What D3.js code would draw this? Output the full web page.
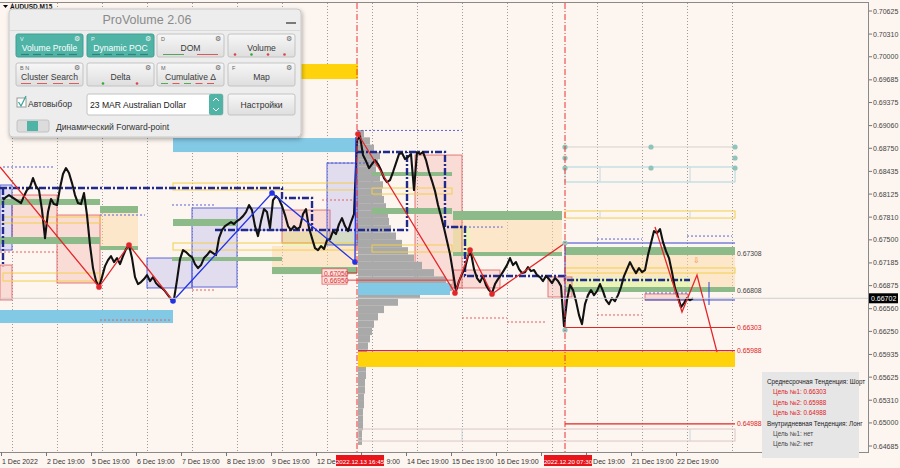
<!DOCTYPE html>
<html><head><meta charset="utf-8">
<script src="https://cdn.jsdelivr.net/npm/d3@7/dist/d3.min.js"></script>
<style>
html,body{margin:0;padding:0;background:#fdf5ef;overflow:hidden}
text{font-family:"Liberation Sans",Arial,sans-serif}
</style></head><body>
<svg id="chart" width="900" height="468"></svg>
<script>
// ---------------- DATA ----------------
// AUDUSD M15 closes, sampled evenly along the chart (1/15 trading day apart)
const priceClose = [
0.68043,0.68084,0.68111,0.68084,0.68057,0.68029,0.68002,0.68098,0.68180,0.68221,
0.68344,0.68234,0.68180,0.67906,0.67524,0.67879,0.68057,0.67988,0.67975,0.68207,
0.68398,0.68480,0.68412,0.68275,0.68111,0.68002,0.67988,0.68139,0.67838,0.67428,
0.67114,0.66937,0.66855,0.66991,0.67141,0.67223,0.67278,0.67196,0.67251,0.67169,
0.67278,0.67374,0.67428,0.67251,0.66991,0.66896,0.66923,0.66964,0.67019,0.66937,
0.66991,0.66909,0.66868,0.66841,0.66800,0.66745,0.66691,0.66691,0.66950,0.67237,
0.67360,0.67333,0.67292,0.67264,0.67169,0.67114,0.67155,0.67251,0.67292,0.67346,
0.67319,0.67292,0.67524,0.67633,0.67688,0.67715,0.67743,0.67715,0.67756,0.67784,
0.67824,0.67879,0.67975,0.67906,0.67688,0.67551,0.67756,0.67920,0.67879,0.67661,
0.68043,0.68098,0.68057,0.67961,0.67838,0.67688,0.67633,0.67688,0.67647,0.67674,
0.67852,0.67920,0.67661,0.67524,0.67387,0.67360,0.67415,0.67374,0.67497,0.67510,
0.67620,0.67579,0.67715,0.67797,0.67688,0.67620,0.67743,0.67852,0.68863,0.68917,
0.68658,0.68576,0.68480,0.68535,0.68589,0.68535,0.68453,0.68344,0.68289,0.68316,
0.68426,0.68548,0.68671,0.68685,0.68603,0.68630,0.68671,0.68180,0.68699,0.68671,
0.68699,0.68589,0.68426,0.68303,0.68166,0.67975,0.67824,0.67661,0.67483,0.67305,
0.67059,0.66800,0.66937,0.67032,0.67114,0.67278,0.67319,0.67100,0.66978,0.66923,
0.67005,0.66882,0.66814,0.66773,0.66896,0.66964,0.67019,0.67087,0.67155,0.67251,
0.67155,0.67196,0.67100,0.67046,0.67059,0.67128,0.67073,0.67087,0.67019,0.66991,
0.66937,0.67005,0.66964,0.66909,0.66978,0.66937,0.66868,0.66322,0.66677,0.66882,
0.66814,0.66663,0.66472,0.66349,0.66622,0.66745,0.66814,0.66745,0.66800,0.66896,
0.66800,0.66677,0.66622,0.66704,0.66663,0.66745,0.66855,0.67005,0.67100,0.67196,
0.67114,0.67046,0.67114,0.67059,0.67087,0.67292,0.67456,0.67620,0.67592,0.67647,
0.67469,0.67346,0.67251,0.67059,0.66841,0.66718,0.66581,0.66636,0.66704,0.66677,0.66702];

const priceTicks = [0.70625,0.70310,0.70000,0.69685,0.69375,0.69060,0.68750,0.68435,0.68125,0.67810,
  0.67500,0.67185,0.66875,0.66560,0.66250,0.65935,0.65625,0.65310,0.65000,0.64685];
const timeLabels = ["1 Dec 2022","2 Dec 19:00","5 Dec 19:00","6 Dec 19:00","7 Dec 19:00","8 Dec 19:00",
  "9 Dec 19:00","12 Dec 19:00","13 Dec 19:00","14 Dec 19:00","15 Dec 19:00","16 Dec 19:00",
  "19 Dec 19:00","20 Dec 19:00","21 Dec 19:00","22 Dec 19:00"];
// part of each time label left visible beside the red event boxes: [text, anchor]
const timeLabelShown = [["1 Dec 2022","start"],["2 Dec 19:00","start"],["5 Dec 19:00","start"],
  ["6 Dec 19:00","start"],["7 Dec 19:00","start"],["8 Dec 19:00","start"],["9 Dec 19:00","start"],
  ["12 De","start"],["9:00","end"],["14 Dec 19:00","start"],["15 Dec 19:00","start"],
  ["16 Dec 19:00","start"],["","start"],["Dec 19:00","end"],["21 Dec 19:00","start"],["22 Dec 19:00","start"]];
const markerTimes = [7.667, 12.289];
const markerLabels = ["2022.12.13 16:45","2022.12.20 07:30"];
const currentPrice = 0.66702;

// zones: [timeStart, timeEnd, priceHigh, priceLow]  (time in trading days)
const lightBlueZones = [[3.578,7.667,0.68891,0.68699],[-0.267,3.578,0.66542,0.66364],[7.689,9.733,0.66911,0.66747]];
const goldZones = [[3.556,7.689,0.69901,0.69696],[7.689,16.067,0.65968,0.65764]];
const greenZones = [
  [-0.267,1.956,0.68058,0.67976],[-0.267,1.956,0.67539,0.67443],
  [1.956,2.8,0.67962,0.67867],[1.956,2.8,0.67416,0.67361],
  [3.578,5,0.67785,0.67689],[3.556,6,0.67266,0.67211],[5.778,7.667,0.67129,0.67033],
  [8,9.778,0.68426,0.68372],[8,9.778,0.67935,0.67853],
  [9.8,12.222,0.67894,0.67771],[9.8,12.222,0.67334,0.67279],
  [12.289,16.067,0.67402,0.67293],[12.289,16.067,0.66856,0.66788]];
const peachZones = [[1.956,2.8,0.67867,0.67416],[9.8,12.222,0.67771,0.67334],
  [12.289,16.067,0.67293,0.66856],[5.778,7.667,0.67416,0.67129]];
const limeZones = [[6,7.667,0.67607,0.67416],[12.289,15.067,0.66993,0.66856],[9.8,10.178,0.67675,0.67334]];
const pinkZones = [[0,1,0.68112,0.67498],[1,1.956,0.67839,0.66911],[6,7.067,0.67907,0.67457],
  [8.956,10,0.68658,0.66843],[-0.267,0,0.67156,0.66679],[9.8,10.844,0.67088,0.66843],
  [11.911,12.444,0.66993,0.66720],[14.067,15.022,0.66761,0.66679]];
const lavenderZones = [[-0.267,0,0.68249,0.67361],[3,4,0.67252,0.66843],[4,5,0.67935,0.66856],
  [5,6,0.67935,0.67634],[7,7.667,0.68549,0.67430],[7.689,8,0.68727,0.67430]];
const yellowBoxes = [[-0.2,1.956,0.67812,0.67730],[-0.2,1.956,0.67047,0.66938],
  [3.578,7.622,0.68276,0.68181],[3.578,7.622,0.67457,0.67361],
  [8,9.778,0.68208,0.68126],[8,9.778,0.67430,0.67334],
  [12.289,16.067,0.67894,0.67798],[12.289,16.067,0.67116,0.67047]];
const tealBoxes = [[12.289,16.067,0.68495,0.68290]];
const faintBoxes = [[7.689,16.067,0.64917,0.64753]];
const boxDividers = [[13.067,0.68495,0.68290],[15.067,0.68495,0.68290],[13.067,0.67894,0.67798],
  [15.067,0.67894,0.67798],[10,0.64917,0.64753],[15.067,0.64917,0.64753]];
const tealDots = [[12.289,0.68768],[12.289,0.68618],[12.289,0.68481],[14.2,0.68768],[14.2,0.68481],
  [16.067,0.68768],[16.067,0.68618],[16.067,0.68481],[12.289,0.67457],[12.289,0.66269]];

// volume profile of the 13 Dec session
const volLevels = [0.6895,0.6885,0.6875,0.6865,0.6855,0.6845,0.6835,0.6825,0.6815,0.6805,0.6795,
  0.6785,0.6775,0.6765,0.6755,0.6745,0.6735,0.6725,0.6715,0.6705,0.6695,0.6685,0.6675,0.6665,
  0.6655,0.6645,0.6635,0.6625,0.6615,0.6605,0.6595,0.6585,0.6575,0.6565,0.6555,0.6545,0.6535,
  0.6525,0.6515,0.6505,0.6495,0.6485,0.6475];
const volValues = [6,12,16,22,20,18,22,25,24,26,28,30,31,33,38,44,50,56,64,76,88,94,62,40,
  26,20,16,14,12,10,9,9,8,8,7,7,6,6,5,5,5,4,4];

// dash-dot POC paths [time, price]
const navyPaths = [
  [[-0.267,0.68208],[6,0.68208],[6,0.68071],[6.667,0.68071],[6.667,0.67634]],
  [[4.511,0.67634],[8.778,0.67634],[8.778,0.68699]],
  [[7.667,0.68699],[9.622,0.68699],[9.622,0.67675],[10.067,0.67675],[10.067,0.67006],
   [12.289,0.67006],[12.289,0.66952],[15.067,0.66952]],
  [[-0.2,0.68208],[-0.2,0.67141]]];
const blueSolid = [[[12.289,0.67457],[16.067,0.67457]],[[12.289,0.67457],[12.289,0.66269]],
  [[14.067,0.66679],[16.067,0.66679]],[[15.489,0.66925],[15.489,0.66610]]];
const blueDotted = [[-0.2,0.956,0.68495],[1.956,2.956,0.67839],[3.556,4.511,0.67976],[7,8,0.68549],
  [7.667,10,0.68994],[13,14,0.67511],[15,16,0.67552],[14.067,15.067,0.66774],[9.8,10.9,0.67675]];
const redDotted = [[-0.267,1,0.67334],[1.956,3.556,0.66405],[4,4.511,0.66815],[6.889,7.622,0.68044],
  [10,11,0.66433],[11,11.889,0.66378],[13,14,0.66474],[15.067,16.067,0.65988]];

// zig-zag swings [time, price]
const redZigs = [
  [[-0.267,0.68495],[1.933,0.66856],[2.6,0.67430],[3.578,0.66665]],
  [[7.689,0.68945],[9.844,0.66774],[10.178,0.67361],[10.667,0.66761],[12.289,0.67457]],
  [[14.289,0.67675],[14.889,0.66515],[15.222,0.67020],[15.667,0.65968]]];
const blueZig = [[3.578,0.66665],[5.778,0.68140],[7.622,0.67198],[7.644,0.68904]];
const redDots = [[1.933,0.66856],[2.6,0.67430],[7.689,0.68945],[9.844,0.66774],[10.178,0.67361],[10.667,0.66761]];
const blueDots = [[3.578,0.66665],[5.778,0.68140],[7.622,0.67198]];

// target levels
const targetLevels = [0.66303, 0.65988, 0.64988];
const infoLevels = [0.67308, 0.66808];
const pocLabels = [0.67050, 0.66950];
const trendText = [
  ["Среднесрочная Тенденция: Шорт","#222",0],["Цель №1: 0.66303","#e02020",1],
  ["Цель №2: 0.65988","#e02020",1],["Цель №3: 0.64988","#e02020",1],
  ["Внутридневная Тенденция: Лонг","#222",0],["Цель №1: нет","#444",1],["Цель №2: нет","#444",1]];

// panel texts
const buttonsRow1 = ["Volume Profile","Dynamic POC","DOM","Volume"];
const buttonsRow2 = ["Cluster Search","Delta","Cumulative Δ","Map"];
const hotkeys1 = ["V","P","D",""];
const hotkeys2 = ["B  N","","M","F"];

// ---------------- DRAW ----------------
const svg = d3.select('#chart');
const X = d3.scaleLinear().domain([0,16]).range([12,732]);
const Y = d3.scaleLinear().domain([0.64685,0.70625]).range([446,11]);
const V = d3.scaleLinear().domain([0,100]).range([0,100]);
const barT = priceClose.map((_, i) => -0.2 + i / 15);
const line = d3.line().x(d => X(d[0])).y(d => Y(d[1]));

svg.append('rect').attr('width',900).attr('height',468).attr('fill','#fdf5ef');
const defs = svg.append('defs');
defs.append('clipPath').attr('id','plot').append('rect').attr('x',0).attr('y',3).attr('width',868).attr('height',449);
const f = defs.append('filter').attr('id','sh').attr('x','-10%').attr('y','-10%').attr('width','130%').attr('height','140%');
f.append('feDropShadow').attr('dx',1).attr('dy',2).attr('stdDeviation',2).attr('flood-color','#000').attr('flood-opacity',0.3);
const btnGrad = defs.append('linearGradient').attr('id','bg').attr('x1',0).attr('y1',0).attr('x2',0).attr('y2',1);
btnGrad.append('stop').attr('offset','0%').attr('stop-color','#f7f7f7');
btnGrad.append('stop').attr('offset','100%').attr('stop-color','#dedede');

const plot = svg.append('g').attr('clip-path','url(#plot)');

// grid
plot.append('g').selectAll('line').data(d3.range(0,17)).join('line')
  .attr('x1',d=>X(d)+0.5).attr('x2',d=>X(d)+0.5).attr('y1',3).attr('y2',452)
  .attr('stroke','#9c9c9c').attr('stroke-dasharray','1,2');

function zones(arr, fill, stroke, sw, dash) {
  plot.append('g').selectAll('rect').data(arr).join('rect')
    .attr('x', d => X(d[0])).attr('y', d => Y(d[2]))
    .attr('width', d => X(d[1]) - X(d[0])).attr('height', d => Math.max(1, Y(d[3]) - Y(d[2])))
    .attr('fill', fill).attr('stroke', stroke || 'none').attr('stroke-width', sw || 1)
    .attr('stroke-dasharray', dash || null);
}
function hlines(arr, color, dash, w) {
  plot.append('g').selectAll('line').data(arr).join('line')
    .attr('x1', d => X(d[0])).attr('x2', d => X(d[1])).attr('y1', d => Y(d[2])).attr('y2', d => Y(d[2]))
    .attr('stroke', color).attr('stroke-width', w || 1).attr('stroke-dasharray', dash || null);
}

zones(peachZones, 'rgba(253,214,160,0.45)');
zones(limeZones, 'rgba(232,244,180,0.85)');
zones(pinkZones, 'rgba(240,120,120,0.20)', '#e26a6a', 0.9);
zones(lavenderZones, 'rgba(130,130,240,0.22)', '#4d5ad6', 0.9);

// volume histogram
plot.append('g').selectAll('rect').data(volLevels).join('rect')
  .attr('x', X(7.689)).attr('y', d => Y(d + 0.0005))
  .attr('width', (d,i) => V(volValues[i])).attr('height', d => Y(d - 0.0005) - Y(d + 0.0005))
  .attr('fill', '#a9a9a9');

zones(lightBlueZones, '#82c9e6');
zones(goldZones, '#ffd30c');
zones(greenZones, '#8cba89');
zones(yellowBoxes, 'none', '#f2cf4a', 1);
zones(tealBoxes, 'none', '#a9d6de', 1);
zones(faintBoxes, 'none', '#dcc6c6', 1);
plot.append('g').selectAll('line').data(boxDividers).join('line')
  .attr('x1', d => X(d[0])).attr('x2', d => X(d[0])).attr('y1', d => Y(d[1])).attr('y2', d => Y(d[2]))
  .attr('stroke', '#c9d8da');
hlines([[12.289,16.067,0.68768]], '#d6d0cc', null, 1);

hlines(blueDotted, '#5a63d8', '2,2', 1);
hlines(redDotted, '#e06060', '2,2', 1);

// POC paths
plot.append('g').selectAll('path').data(navyPaths).join('path')
  .attr('d', line).attr('fill','none').attr('stroke','#1f2a8c').attr('stroke-width',2.4)
  .attr('stroke-dasharray','7,2,2,2');
plot.append('g').selectAll('path').data(blueSolid).join('path')
  .attr('d', line).attr('fill','none').attr('stroke','#3646d0').attr('stroke-width',1);

// target level lines
plot.append('g').selectAll('line').data(targetLevels).join('line')
  .attr('x1', (d,i) => X(i === 1 ? 7.689 : 12.289)).attr('x2', X(16.067))
  .attr('y1', d => Y(d)).attr('y2', d => Y(d)).attr('stroke','#e02424').attr('stroke-width',1.2);
hlines([[7.467,9.844,0.66950],[7.467,7.667,0.67050]], '#e04040', null, 1);

// price line
plot.append('path').datum(priceClose.map((p,i) => [barT[i], p]))
  .attr('d', line).attr('fill','none').attr('stroke','#111').attr('stroke-width',2.1)
  .attr('stroke-linejoin','round');

// zigzags
plot.append('g').selectAll('path').data(redZigs).join('path')
  .attr('d', line).attr('fill','none').attr('stroke','#e3262a').attr('stroke-width',1.3);
plot.append('path').datum(blueZig).attr('d', line).attr('fill','none').attr('stroke','#2233e6').attr('stroke-width',1.3);
plot.append('g').selectAll('circle').data(redDots).join('circle')
  .attr('cx', d => X(d[0])).attr('cy', d => Y(d[1])).attr('r', 2.8).attr('fill','#e3262a');
plot.append('g').selectAll('circle').data(blueDots).join('circle')
  .attr('cx', d => X(d[0])).attr('cy', d => Y(d[1])).attr('r', 2.8).attr('fill','#2233e6');
plot.append('g').selectAll('circle').data(tealDots).join('circle')
  .attr('cx', d => X(d[0])).attr('cy', d => Y(d[1])).attr('r', 2.6).attr('fill','#8fc4bb');
plot.append('text').attr('x', X(15.222)).attr('y', Y(0.6719)).attr('text-anchor','middle')
  .attr('font-size',8).attr('fill','#f08a3a').text('⇩');

// POC labels
const pl = plot.append('g').selectAll('g').data(pocLabels).join('g');
pl.append('rect').attr('x', X(6.889)).attr('y', d => Y(d) - 4).attr('width',25).attr('height',8)
  .attr('fill','#fde3e0').attr('stroke','#e06060').attr('stroke-width',0.8);
pl.append('text').attr('x', X(6.889) + 2).attr('y', d => Y(d) + 3).attr('font-size',6.8)
  .attr('fill','#d83030').text(d => d.toFixed(5));

// current price line
plot.append('line').attr('x1',0).attr('x2',868).attr('y1',Y(currentPrice)).attr('y2',Y(currentPrice))
  .attr('stroke','#cfcfcf').attr('stroke-width',1);

// red event verticals
plot.append('g').selectAll('line').data(markerTimes).join('line')
  .attr('x1', d => X(d)).attr('x2', d => X(d)).attr('y1',3).attr('y2',452)
  .attr('stroke','#e33').attr('stroke-width',1).attr('stroke-dasharray','6,2,1,2');

// level labels
svg.append('g').selectAll('text').data(targetLevels).join('text')
  .attr('x', X(16.067) + 2).attr('y', d => Y(d) + 2.5).attr('font-size',6.8).attr('fill','#e02424')
  .text(d => d.toFixed(5));
svg.append('g').selectAll('text').data(infoLevels).join('text')
  .attr('x', X(16.067) + 2).attr('y', d => Y(d) + 2.5).attr('font-size',6.8).attr('fill','#444')
  .text(d => d.toFixed(5));

// frame
svg.append('line').attr('x1',0).attr('x2',869).attr('y1',2.5).attr('y2',2.5).attr('stroke','#8a8a8a');
svg.append('line').attr('x1',868.5).attr('x2',868.5).attr('y1',2.5).attr('y2',452.5).attr('stroke','#8a8a8a');
svg.append('line').attr('x1',0).attr('x2',869).attr('y1',452.5).attr('y2',452.5).attr('stroke','#8a8a8a');

// price axis
const pa = svg.append('g').selectAll('g').data(priceTicks).join('g');
pa.append('line').attr('x1',869).attr('x2',872).attr('y1', d => Y(d)).attr('y2', d => Y(d)).attr('stroke','#777');
pa.append('text').attr('x',873).attr('y', d => Y(d) + 2.5).attr('font-size',7).attr('fill','#444')
  .text(d => d.toFixed(5));
svg.append('rect').attr('x',869).attr('y',Y(currentPrice)-5).attr('width',29).attr('height',10).attr('fill','#000');
svg.append('text').attr('x',871).attr('y',Y(currentPrice)+2.5).attr('font-size',7).attr('fill','#fff')
  .text(currentPrice.toFixed(5));

// time axis
const ta = svg.append('g').selectAll('g').data(timeLabels).join('g');
ta.append('line').attr('x1',(d,i)=>X(i)-10.5).attr('x2',(d,i)=>X(i)-10.5).attr('y1',452).attr('y2',456).attr('stroke','#777');
ta.append('text')
  .attr('x',(d,i)=> timeLabelShown[i][1] === 'end' ? X(i)+28 : X(i)-10)
  .attr('text-anchor',(d,i)=>timeLabelShown[i][1])
  .attr('y',463.5).attr('font-size',7).attr('fill','#333').text((d,i)=>timeLabelShown[i][0]);
const ma = svg.append('g').selectAll('g').data(markerTimes).join('g');
ma.append('rect').attr('x', d => X(d) - 21).attr('y',455).attr('width',48).attr('height',11).attr('fill','#e8141a');
ma.append('text').attr('x', d => X(d) + 3).attr('y',463.5).attr('text-anchor','middle').attr('font-size',6.2)
  .attr('fill','#fff').text((d,i) => markerLabels[i]);

// symbol label
svg.append('path').attr('d','M3,5 L8,5 L5.5,8 Z').attr('fill','#000');
svg.append('text').attr('x',10).attr('y',9).attr('font-size',6.5).attr('font-weight','bold').attr('fill','#111').text('AUDUSD,M15');

// info box
svg.append('rect').attr('x',762).attr('y',372).attr('width',97).attr('height',86).attr('fill','#e6e6e6');
svg.append('g').selectAll('text').data(trendText).join('text')
  .attr('x', d => 767 + d[2]*6).attr('y', (d,i) => 384 + i*10.4).attr('font-size',6.3)
  .attr('fill', d => d[1]).text(d => d[0]);

// ---------------- PANEL ----------------
const P = svg.append('g');
P.append('rect').attr('x',9).attr('y',9).attr('width',292).attr('height',128).attr('rx',4)
  .attr('fill','#ededed').attr('stroke','#c8c8c8').attr('filter','url(#sh)');
P.append('line').attr('x1',10).attr('x2',300).attr('y1',30.5).attr('y2',30.5).attr('stroke','#dadada');
P.append('text').attr('x',147).attr('y',24).attr('text-anchor','middle').attr('font-size',12.5)
  .attr('fill','#8a8a8a').text('ProVolume 2.06');
P.append('line').attr('x1',286).attr('x2',296).attr('y1',23).attr('y2',23).attr('stroke','#7a7a7a').attr('stroke-width',2);

const colX = [16, 87, 157, 228];
function button(x, y, label, key, teal) {
  const g = P.append('g');
  g.append('rect').attr('x',x).attr('y',y).attr('width',67).attr('height',23).attr('rx',2)
    .attr('fill', teal ? '#4fb3a6' : 'url(#bg)').attr('stroke', teal ? '#3f9f93' : '#c3c3c3');
  g.append('text').attr('x',x+33.5).attr('y',y+16.5).attr('text-anchor','middle').attr('font-size',8.6)
    .attr('fill', teal ? '#fff' : '#3a3a3a').text(label);
  if (key) g.append('text').attr('x',x+4).attr('y',y+6.5).attr('font-size',5.5)
    .attr('fill', teal ? '#e8f6f4' : '#666').text(key);
  g.append('text').attr('x',x+61).attr('y',y+7).attr('text-anchor','middle').attr('font-size',6.5)
    .attr('fill', teal ? '#f4f4f4' : '#666').text('⚙');
  return g;
}
buttonsRow1.forEach((b,i) => button(colX[i], 34, b, hotkeys1[i], i < 2));
buttonsRow2.forEach((b,i) => button(colX[i], 63, b, hotkeys2[i], false));

// indicator strips
[0,1].forEach(c => d3.range(5).forEach(k =>
  P.append('line').attr('x1',colX[c]+5+k*12).attr('x2',colX[c]+13+k*12).attr('y1',54.5).attr('y2',54.5)
   .attr('stroke','#2c8478').attr('stroke-width',1.2)));
P.append('line').attr('x1',163).attr('x2',184).attr('y1',54.5).attr('y2',54.5).attr('stroke','#58a55a');
P.append('line').attr('x1',197).attr('x2',218).attr('y1',54.5).attr('y2',54.5).attr('stroke','#d65c5c');
['#d44','#3a3','#d44','#d44'].forEach((c,k) =>
  P.append('circle').attr('cx',235+k*16.5).attr('cy',54.5).attr('r',1.3).attr('fill',c));
d3.range(4).forEach(k => P.append('line').attr('x1',21+k*16).attr('x2',31+k*16).attr('y1',83.5).attr('y2',83.5)
  .attr('stroke','#d46060'));
P.append('circle').attr('cx',103).attr('cy',83.5).attr('r',1.3).attr('fill','#3a3');
P.append('circle').attr('cx',137).attr('cy',83.5).attr('r',1.3).attr('fill','#d44');
['#5a5','#d55','#5a5','#d55','#d55'].forEach((c,k) =>
  P.append('line').attr('x1',161+k*11.5).attr('x2',168+k*11.5).attr('y1',83.5).attr('y2',83.5).attr('stroke',c));

// checkbox row
P.append('rect').attr('x',17).attr('y',98).attr('width',9).attr('height',9).attr('fill','#fff').attr('stroke','#9a9a9a');
P.append('path').attr('d','M18.5,102 L21,106 L26,96').attr('fill','none').attr('stroke','#3aa89a').attr('stroke-width',1.3);
P.append('text').attr('x',28).attr('y',107).attr('font-size',8.6).attr('fill','#333').text('Автовыбор');
P.append('rect').attr('x',87).attr('y',94).attr('width',136).attr('height',21).attr('rx',2).attr('fill','#fff').attr('stroke','#c2c2c2');
P.append('text').attr('x',90).attr('y',108).attr('font-size',8.6).attr('fill','#222').text('23 MAR Australian Dollar');
P.append('rect').attr('x',209).attr('y',94).attr('width',14).attr('height',21).attr('rx',2).attr('fill','#4fb3a6');
P.append('path').attr('d','M213,101 L216,98 L219,101 M213,108 L216,111 L219,108').attr('fill','none').attr('stroke','#fff').attr('stroke-width',1);
P.append('rect').attr('x',228).attr('y',94).attr('width',67).attr('height',21).attr('rx',2).attr('fill','url(#bg)').attr('stroke','#c3c3c3');
P.append('text').attr('x',261.5).attr('y',108).attr('text-anchor','middle').attr('font-size',8.6).attr('fill','#333').text('Настройки');
// toggle row
P.append('rect').attr('x',17).attr('y',120).attr('width',32).attr('height',12).attr('rx',2).attr('fill','#dcdcdc').attr('stroke','#c2c2c2');
P.append('rect').attr('x',27).attr('y',121).attr('width',11).attr('height',10).attr('fill','#4fb3a6');
P.append('text').attr('x',56).attr('y',130).attr('font-size',8.6).attr('fill','#333').text('Динамический Forward-point');
</script></body></html>
